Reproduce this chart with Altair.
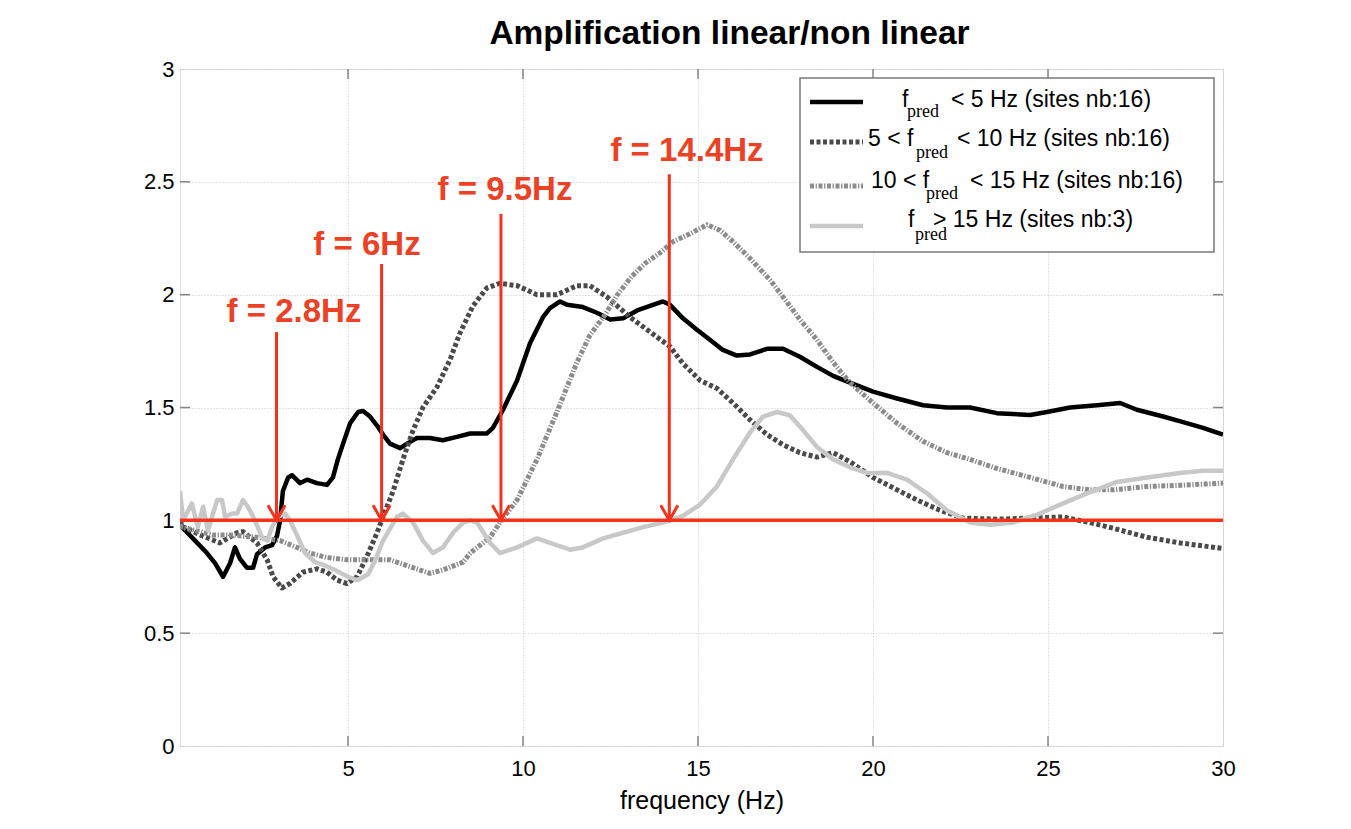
import altair as alt
import pandas as pd

# ---------------- data ----------------
black_f = [0.2, 0.26, 0.63, 0.97, 1.2, 1.43, 1.63, 1.77, 1.91, 2.11, 2.29, 2.4, 2.63, 2.83, 2.97, 3.06, 3.14, 3.29, 3.4, 3.63,
           3.83, 4.11, 4.4, 4.57, 4.71, 4.86, 5.06, 5.29, 5.43, 5.63, 5.83, 6.0, 6.2, 6.49, 6.69, 6.97, 7.34, 7.71, 8.11, 8.49,
           8.97, 9.14, 9.43, 9.83, 10.2, 10.57, 10.77, 11.06, 11.26, 11.71, 12.11, 12.49, 12.86, 13.26, 13.63, 14.0, 14.2, 14.57, 14.97, 15.34,
           15.71, 16.11, 16.49, 16.97, 17.43, 17.91, 18.4, 18.86, 19.34, 20.0, 20.69, 21.43, 22.11, 22.77, 23.54, 24.49, 24.97, 25.63, 26.4, 27.06,
           27.54, 28.29, 28.86, 29.43, 30.0]
black_a = [1.0, 0.97, 0.91, 0.855, 0.81, 0.75, 0.81, 0.88, 0.83, 0.79, 0.79, 0.85, 0.88, 0.89, 0.93, 1.0, 1.13, 1.19, 1.2, 1.165,
           1.18, 1.165, 1.157, 1.19, 1.27, 1.34, 1.43, 1.48, 1.485, 1.46, 1.42, 1.38, 1.34, 1.32, 1.34, 1.365, 1.365, 1.355, 1.37, 1.385,
           1.385, 1.41, 1.49, 1.62, 1.785, 1.9, 1.94, 1.97, 1.955, 1.945, 1.92, 1.89, 1.895, 1.93, 1.95, 1.97, 1.955, 1.895, 1.845, 1.8,
           1.755, 1.73, 1.735, 1.76, 1.76, 1.725, 1.68, 1.64, 1.61, 1.57, 1.54, 1.51, 1.5, 1.5, 1.475, 1.467, 1.48, 1.5, 1.51, 1.52,
           1.49, 1.46, 1.435, 1.41, 1.38]

dark_f = [0.2, 0.29, 0.86, 1.34, 1.83, 2.0, 2.4, 2.69, 2.86, 3.11, 3.34, 3.71, 4.11, 4.4, 4.69, 4.97, 5.26, 5.54, 5.83, 6.0,
          6.29, 6.57, 6.86, 7.14, 7.54, 7.91, 8.2, 8.57, 8.97, 9.34, 9.83, 10.4, 10.97, 11.54, 11.91, 12.4, 13.06, 13.63, 14.2, 14.57,
          15.06, 15.54, 16.0, 16.49, 16.97, 17.43, 17.91, 18.4, 18.86, 19.34, 20.0, 20.69, 21.26, 21.91, 22.57, 23.54, 24.49, 25.43, 26.2, 26.86,
          27.83, 28.77, 30.0]
dark_a = [1.0, 0.97, 0.93, 0.9, 0.945, 0.95, 0.9, 0.825, 0.75, 0.7, 0.72, 0.77, 0.785, 0.77, 0.735, 0.72, 0.75, 0.84, 0.945, 1.015,
          1.13, 1.27, 1.4, 1.5, 1.59, 1.71, 1.83, 1.95, 2.03, 2.05, 2.04, 2.0, 2.0, 2.04, 2.04, 1.99, 1.9, 1.835, 1.77, 1.695,
          1.62, 1.585, 1.52, 1.445, 1.38, 1.335, 1.3, 1.28, 1.3, 1.26, 1.19, 1.135, 1.09, 1.045, 1.01, 1.005, 1.01, 1.015, 0.99, 0.965,
          0.925, 0.9, 0.875]

med_f = [0.2, 0.26, 1.14, 1.63, 2.4, 3.06, 3.54, 3.91, 4.4, 4.97, 5.43, 5.83, 6.2, 6.77, 7.34, 7.71, 8.29, 8.49, 9.06, 9.43,
         9.83, 10.4, 10.97, 11.54, 11.91, 12.34, 12.7, 13.1, 13.5, 13.91, 14.29, 14.77, 15.26, 15.63, 16.0, 16.49, 17.06, 17.43, 17.91, 18.4,
         18.86, 19.34, 20.0, 20.69, 21.43, 22.11, 22.77, 23.54, 24.49, 25.43, 26.2, 26.86, 27.83, 28.77, 30.0]
med_a = [0.98, 0.97, 0.935, 0.935, 0.925, 0.91, 0.88, 0.855, 0.835, 0.825, 0.825, 0.825, 0.825, 0.795, 0.765, 0.78, 0.815, 0.855, 0.925, 1.01,
         1.09, 1.27, 1.48, 1.7, 1.82, 1.91, 2.0, 2.08, 2.14, 2.185, 2.235, 2.27, 2.31, 2.285, 2.235, 2.16, 2.065, 1.99, 1.89, 1.8,
         1.7, 1.61, 1.52, 1.43, 1.35, 1.3, 1.27, 1.23, 1.19, 1.15, 1.135, 1.135, 1.15, 1.155, 1.165]

light_f = [0.2, 0.29, 0.54, 0.71, 0.86, 1.0, 1.26, 1.4, 1.49, 1.69, 1.83, 2.0, 2.14, 2.34, 2.54, 2.69, 2.83, 3.0, 3.2, 3.34,
           3.57, 3.77, 4.06, 4.34, 4.63, 5.0, 5.26, 5.57, 5.77, 6.0, 6.4, 6.57, 6.86, 7.14, 7.43, 7.71, 8.0, 8.29, 8.49, 8.69,
           9.06, 9.34, 9.83, 10.4, 10.77, 11.34, 11.71, 12.29, 12.86, 13.43, 14.0, 14.57, 15.06, 15.54, 16.0, 16.49, 16.86, 17.26, 17.63, 18.0,
           18.4, 18.86, 19.34, 19.83, 20.4, 20.97, 21.54, 22.11, 22.77, 23.34, 24.0, 24.69, 25.43, 26.2, 26.97, 27.83, 28.77, 29.43, 30.0]
light_a = [1.13, 1.0, 1.075, 0.97, 1.06, 0.955, 1.09, 1.09, 1.015, 1.03, 1.03, 1.09, 1.06, 1.0, 0.925, 0.91, 0.97, 1.015, 1.03, 1.0,
           0.925, 0.855, 0.815, 0.8, 0.78, 0.75, 0.735, 0.76, 0.82, 0.91, 1.015, 1.03, 0.99, 0.91, 0.855, 0.88, 0.945, 0.99, 1.0, 0.99,
           0.9, 0.855, 0.88, 0.92, 0.9, 0.87, 0.88, 0.92, 0.945, 0.97, 0.99, 1.02, 1.07, 1.15, 1.27, 1.39, 1.46, 1.48, 1.465, 1.4,
           1.325, 1.27, 1.235, 1.21, 1.21, 1.18, 1.12, 1.045, 0.99, 0.98, 0.99, 1.025, 1.075, 1.125, 1.17, 1.19, 1.21, 1.22, 1.22]

# annotations (arrows to the f = ... points)
ann_labels = ["f = 2.8Hz", "f = 6Hz", "f = 9.5Hz", "f = 14.4Hz"]
ann_label_x = [3.457, 5.543, 9.486, 14.686]
ann_label_y = [1.879, 2.175, 2.419, 2.592]
arrow_x = [2.957, 5.96, 9.37, 14.18]
arrow_top = [1.834, 2.136, 2.357, 2.534]
ref_level = 1.0

x_ticks = [5, 10, 15, 20, 25, 30]
y_ticks = [0, 0.5, 1, 1.5, 2, 2.5, 3]
x_domain = [0.2, 30]
y_domain = [0, 3]

title_text = "Amplification linear/non linear"
x_title = "frequency (Hz)"
legend_prefix = ["f", "5 < f", "10 < f", "f"]
legend_sub = ["pred", "pred", "pred", "pred"]
legend_suffix = ["< 5 Hz (sites nb:16)", "< 10 Hz (sites nb:16)", "< 15 Hz (sites nb:16)", "> 15 Hz (sites nb:3)"]

# ---------------- styling ----------------
W, H = 1043, 677
SANS = "Liberation Sans"
SERIF = "Liberation Serif"
RED = "#f4321c"
RED_TXT = "#ec4125"
AXIS_GRAY = "#858585"

styles = [
    dict(color="#000000", strokeWidth=4.5),
    dict(color="#4a4a4a", strokeWidth=5, strokeDash=[4, 2.5], strokeCap="butt"),
    dict(color="#8c8c8c", strokeWidth=5, strokeDash=[4, 1.6, 1.3, 1.6], strokeCap="butt"),
    dict(color="#c8c8c8", strokeWidth=4.5),
]

xs = alt.Scale(domain=x_domain, nice=False, zero=False)
ys = alt.Scale(domain=y_domain, nice=False, zero=False)

dummy = pd.DataFrame({"d": [0]})

x_axis = alt.Axis(values=x_ticks, format="d", labelFontSize=22, labelFont=SANS, labelColor="black",
                  labelBaseline="alphabetic", labelPadding=29, labelFlush=False, labelOverlap=False,
                  ticks=False, tickSize=0, domain=False, grid=True, gridDash=[1, 2], gridColor="#c8c8c8",
                  gridWidth=1, title=x_title, titleFont=SANS, titleFontSize=25,
                  titleFontWeight="normal", titleColor="black", titleBaseline="alphabetic", titleY=62)
y_axis = alt.Axis(values=y_ticks, format="~g", labelFontSize=22, labelFont=SANS, labelColor="black",
                  labelPadding=6, labelFlush=False, labelOverlap=False, ticks=False, tickSize=0,
                  domain=False, grid=True, gridDash=[1, 2], gridColor="#c8c8c8", gridWidth=1, title=None)


def X(field):
    return alt.X(field, type="quantitative", scale=xs, axis=x_axis)


def Y(field):
    return alt.Y(field, type="quantitative", scale=ys, axis=y_axis)


series = [(black_f, black_a), (dark_f, dark_a), (med_f, med_a), (light_f, light_a)]
layers = []
for (f, a), st in zip(series, styles):
    df = pd.DataFrame({"freq": f, "amp": a})
    kw = dict(clip=True, strokeJoin="round")
    kw.update(st)
    layers.append(alt.Chart(df).mark_line(**kw).encode(x=X("freq"), y=Y("amp")))

# inner ticks (MATLAB style) on all four sides
xt = pd.DataFrame({"t": x_ticks[:-1]})
yt = pd.DataFrame({"t": y_ticks[1:-1]})
tick_kw = dict(color=AXIS_GRAY, strokeWidth=1.5)
layers += [
    alt.Chart(xt).mark_rule(**tick_kw).encode(x=X("t"), y=alt.value(H), y2=alt.value(H - 10)),
    alt.Chart(xt).mark_rule(**tick_kw).encode(x=X("t"), y=alt.value(0), y2=alt.value(10)),
    alt.Chart(yt).mark_rule(**tick_kw).encode(y=Y("t"), x=alt.value(0), x2=alt.value(10)),
    alt.Chart(yt).mark_rule(**tick_kw).encode(y=Y("t"), x=alt.value(W - 10), x2=alt.value(W)),
]

# red reference line at amplification 1
ref_df = pd.DataFrame({"x0": [x_domain[0]], "x1": [x_domain[1]], "y": [ref_level]})
layers.append(
    alt.Chart(ref_df).mark_rule(color=RED, strokeWidth=3.5).encode(x=X("x0"), x2="x1:Q", y=Y("y"))
)

ann_df = pd.DataFrame({"ax": arrow_x, "top": arrow_top, "base": [ref_level] * len(arrow_x),
                       "lx": ann_label_x, "ly": ann_label_y, "label": ann_labels})
layers.append(
    alt.Chart(ann_df).mark_rule(color=RED, strokeWidth=3).encode(x=X("ax"), y=Y("top"), y2="base:Q")
)
layers.append(
    alt.Chart(ann_df).mark_point(shape="M -0.57 -1 L 0 0 L 0.57 -1", size=900, filled=False,
                                 color=RED, strokeWidth=3, opacity=1).encode(x=X("ax"), y=Y("base"))
)
layers.append(
    alt.Chart(ann_df).mark_text(color=RED_TXT, font=SANS, fontSize=33, fontWeight="bold",
                                align="center", baseline="alphabetic").encode(
        x=X("lx"), y=Y("ly"), text="label:N")
)


def px_text(x, y, txt, size, font, weight="normal", align="left"):
    return alt.Chart(dummy).mark_text(align=align, baseline="alphabetic", font=font, fontSize=size,
                                      fontWeight=weight, color="black").encode(
        x=alt.value(x), y=alt.value(y), text=alt.value(txt))


# chart title (placed above the plot area)
layers.append(px_text(549.5, -25.5, title_text, 33.5, SANS, weight="bold", align="center"))

# ---------------- legend (drawn by hand to allow subscripts) ----------------
LEG_X0, LEG_X1, LEG_Y0, LEG_Y1 = 620, 1034, 9, 183
layers.append(
    alt.Chart(dummy).mark_rect(fill="white", stroke="#7a7a7a", strokeWidth=1.5).encode(
        x=alt.value(LEG_X0), x2=alt.value(LEG_X1), y=alt.value(LEG_Y0), y2=alt.value(LEG_Y1))
)
swatch_y = [33, 73, 117, 157]
prefix_pos = [(722, 38), (688, 77), (691, 119), (728, 158)]
sub_pos = [(727, 48), (736, 89), (746, 130), (735, 171)]
suffix_pos = [(771, 38), (777, 77), (790, 119), (753, 158)]
for i, st in enumerate(styles):
    layers.append(
        alt.Chart(dummy).mark_rule(**st).encode(x=alt.value(630), x2=alt.value(683), y=alt.value(swatch_y[i]))
    )

for i in range(4):
    layers.append(px_text(*prefix_pos[i], legend_prefix[i], 23, SANS))
    layers.append(px_text(*sub_pos[i], legend_sub[i], 18, SERIF))
    layers.append(px_text(*suffix_pos[i], legend_suffix[i], 23, SANS))

chart = alt.layer(*layers).properties(
    width=W, height=H,
    autosize=alt.AutoSizeParams(type="none"),
    padding={"left": 172, "top": 61, "right": 110, "bottom": 70},
).configure_view(stroke=AXIS_GRAY, strokeWidth=1.5).configure(background="white")

chart.save("out.html", embed_options={"renderer": "svg", "actions": False})
